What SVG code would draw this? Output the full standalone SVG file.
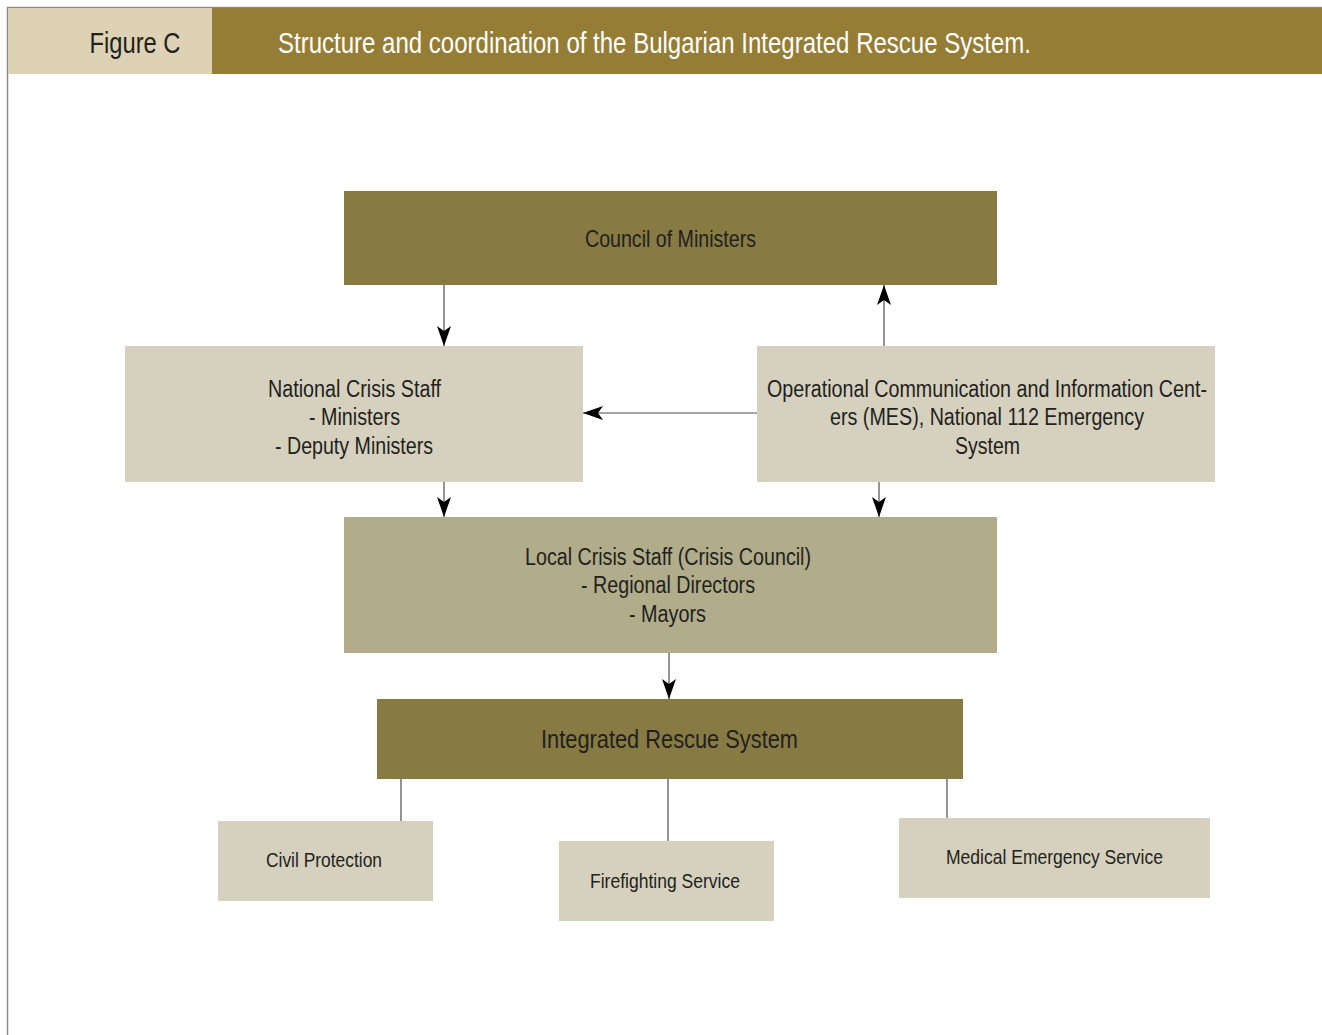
<svg xmlns="http://www.w3.org/2000/svg" width="1322" height="1035" viewBox="0 0 1322 1035">
  <style>
    text { font-family: "Liberation Sans", Arial, sans-serif; fill: #231f20; text-anchor: middle; }
    .hdr { font-size: 29px; }
    .t22 { font-size: 23.5px; }
    .t24 { font-size: 25px; }
    .t19 { font-size: 21px; }
    .dark { fill: #877a43; }
    .light { fill: #d6d1be; }
    .mid { fill: #b1ac89; }
    .conn { stroke: #4d4d4d; stroke-width: 1.2; fill: none; }
  </style>
  <defs>
    <marker id="arrow" viewBox="-21 -8 22 16" refX="0" refY="0" markerWidth="22" markerHeight="16" markerUnits="userSpaceOnUse" orient="auto">
      <path d="M0,0 L-20,-7 L-15,0 L-20,7 Z" fill="#000"/>
    </marker>
  </defs>

  <rect width="1322" height="1035" fill="#fff"/>

  <!-- frame -->
  <path d="M7.5,1035 V7.5 H1322" stroke="#8a8a8a" stroke-width="1.5" fill="none"/>

  <!-- header band -->
  <g id="header">
    <rect x="8" y="8" width="204" height="66" fill="#ddd3b4"/>
    <rect x="212" y="8" width="1110" height="66" fill="#967d36"/>
    <text class="hdr" x="135" y="53" textLength="91" lengthAdjust="spacingAndGlyphs">Figure C</text>
    <text class="hdr" x="654.5" y="53" style="fill:#fff" textLength="753" lengthAdjust="spacingAndGlyphs">Structure and coordination of the Bulgarian Integrated Rescue System.</text>
  </g>

  <!-- connectors -->
  <g id="connectors">
    <line class="conn" x1="444" y1="285" x2="444" y2="346" marker-end="url(#arrow)"/>
    <line class="conn" x1="884" y1="346" x2="884" y2="285" marker-end="url(#arrow)"/>
    <line class="conn" x1="757" y1="413" x2="583" y2="413" marker-end="url(#arrow)"/>
    <line class="conn" x1="444" y1="482" x2="444" y2="517" marker-end="url(#arrow)"/>
    <line class="conn" x1="879" y1="482" x2="879" y2="517" marker-end="url(#arrow)"/>
    <line class="conn" x1="669" y1="653" x2="669" y2="699" marker-end="url(#arrow)"/>
    <line class="conn" x1="401" y1="779" x2="401" y2="821"/>
    <line class="conn" x1="668" y1="779" x2="668" y2="841"/>
    <line class="conn" x1="947" y1="779" x2="947" y2="818"/>
  </g>

  <g id="council">
    <rect class="dark" x="344" y="191" width="653" height="94"/>
    <text x="670.5" y="247" style="font-size:24px" textLength="171" lengthAdjust="spacingAndGlyphs">Council of Ministers</text>
  </g>

  <g id="national-crisis-staff">
    <rect class="light" x="125" y="346" width="458" height="136"/>
    <text class="t22" x="354.5" y="397" textLength="173" lengthAdjust="spacingAndGlyphs">National Crisis Staff</text>
    <text class="t22" x="354.5" y="425" textLength="91" lengthAdjust="spacingAndGlyphs">- Ministers</text>
    <text class="t22" x="354" y="454" textLength="158" lengthAdjust="spacingAndGlyphs">- Deputy Ministers</text>
  </g>

  <g id="operational-centers">
    <rect class="light" x="757" y="346" width="458" height="136"/>
    <text class="t22" x="987" y="397" textLength="440" lengthAdjust="spacingAndGlyphs">Operational Communication and Information Cent-</text>
    <text class="t22" x="987" y="425" textLength="314" lengthAdjust="spacingAndGlyphs">ers (MES), National 112 Emergency</text>
    <text class="t22" x="987.5" y="454" textLength="65" lengthAdjust="spacingAndGlyphs">System</text>
  </g>

  <g id="local-crisis-staff">
    <rect class="mid" x="344" y="517" width="653" height="136"/>
    <text class="t22" x="668" y="565" textLength="286" lengthAdjust="spacingAndGlyphs">Local Crisis Staff (Crisis Council)</text>
    <text class="t22" x="668" y="593" textLength="174" lengthAdjust="spacingAndGlyphs">- Regional Directors</text>
    <text class="t22" x="667.5" y="622" textLength="77" lengthAdjust="spacingAndGlyphs">- Mayors</text>
  </g>

  <g id="integrated-rescue-system">
    <rect class="dark" x="377" y="699" width="586" height="80"/>
    <text class="t24" x="669.5" y="748" textLength="257" lengthAdjust="spacingAndGlyphs">Integrated Rescue System</text>
  </g>

  <g id="civil-protection">
    <rect class="light" x="218" y="821" width="215" height="80"/>
    <text class="t19" x="324" y="867" textLength="116" lengthAdjust="spacingAndGlyphs">Civil Protection</text>
  </g>

  <g id="firefighting-service">
    <rect class="light" x="559" y="841" width="215" height="80"/>
    <text class="t19" x="665" y="888" textLength="150" lengthAdjust="spacingAndGlyphs">Firefighting Service</text>
  </g>

  <g id="medical-emergency-service">
    <rect class="light" x="899" y="818" width="311" height="80"/>
    <text class="t19" x="1054.5" y="864" textLength="217" lengthAdjust="spacingAndGlyphs">Medical Emergency Service</text>
  </g>
</svg>
